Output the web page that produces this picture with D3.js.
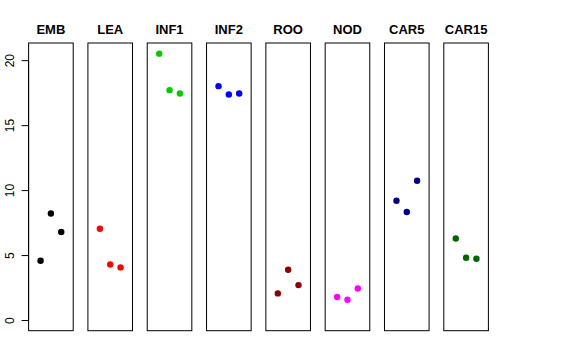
<!DOCTYPE html>
<html><head><meta charset="utf-8">
<script src="https://cdn.jsdelivr.net/npm/d3@7"></script>
<style>body{margin:0;background:#fff}svg{display:block}</style>
</head><body>
<script>
const categories = ["EMB","LEA","INF1","INF2","ROO","NOD","CAR5","CAR15"];
const EMB   = [4.56, 8.20, 6.77];
const LEA   = [7.02, 4.28, 4.05];
const INF1  = [20.50, 17.69, 17.43];
const INF2  = [18.00, 17.36, 17.43];
const ROO   = [2.05, 3.87, 2.69];
const NOD   = [1.77, 1.56, 2.43];
const CAR5  = [9.18, 8.31, 10.72];
const CAR15 = [6.28, 4.79, 4.72];
const seriesValues = [EMB, LEA, INF1, INF2, ROO, NOD, CAR5, CAR15];
const colors = ["#000000","#FF0000","#00CD00","#0000FF","#8B0000","#FF00FF","#00008B","#006400"];
const yTicks = [0, 5, 10, 15, 20];

(function () {
const W = 576, H = 360;
const svg = d3.select("body").append("svg").attr("width", W).attr("height", H);

const plotTop = 43, plotBottom = 330.7;
const yMax = 20.5;
const y = d3.scaleLinear().domain([-0.04*yMax, yMax*1.04]).range([plotBottom, plotTop]);
const band = d3.scaleBand().domain(categories).range([28.6, 488.4]).paddingInner(0.248).paddingOuter(0);
const bw = band.bandwidth();
const x = d3.scaleLinear().domain([-0.16, 4.16]).range([0, bw]);

categories.forEach((c, i) => {
  const g = svg.append("g").attr("transform", `translate(${band(c)},0)`);
  g.append("rect").attr("x", 0).attr("y", plotTop).attr("width", bw).attr("height", plotBottom - plotTop)
    .attr("fill", "none").attr("stroke", "#000").attr("stroke-width", 1);
  g.append("text").attr("x", bw/2).attr("y", 33.5).attr("text-anchor", "middle")
    .attr("font-family", "Liberation Sans, Arial, sans-serif").attr("font-weight", "bold")
    .attr("font-size", 13).text(c);
  g.selectAll("circle").data(seriesValues[i]).enter().append("circle")
    .attr("cx", (d, j) => x(j + 1)).attr("cy", d => y(d)).attr("r", 3.2)
    .attr("fill", colors[i]);
});

const axis = d3.axisLeft(y).tickValues(yTicks).tickSize(7).tickSizeOuter(0).tickPadding(0);
const ag = svg.append("g").attr("transform", `translate(${band(categories[0])},0)`).call(axis);
ag.select(".domain").attr("stroke", "#000").attr("d", `M0,${y(0)}V${y(20)}`);
ag.selectAll(".tick line").attr("stroke", "#000");
ag.selectAll(".tick text")
  .attr("font-family", "Liberation Sans, Arial, sans-serif").attr("font-size", 12).attr("fill", "#000")
  .attr("text-anchor", "middle").attr("x", null).attr("dy", null)
  .attr("transform", "translate(-15,0) rotate(-90)");
})();
</script>
</body></html>
